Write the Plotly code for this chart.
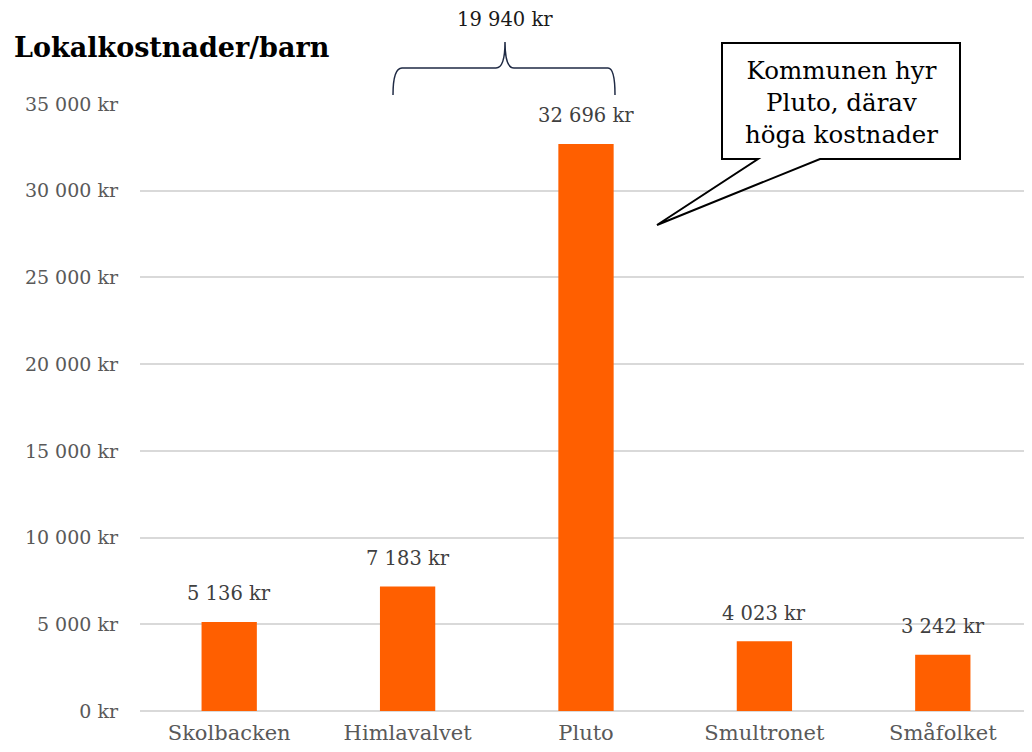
import plotly.graph_objects as go

categories = ["Skolbacken", "Himlavalvet", "Pluto", "Smultronet", "Småfolket"]
values = [5136, 7183, 32696, 4023, 3242]
y_ticks = [0, 5000, 10000, 15000, 20000, 25000, 30000, 35000]
title_text = "Lokalkostnader/barn"
brace_label = "19 940 kr"
callout_text = "Kommunen hyr<br>Pluto, därav<br>höga kostnader"


def kr(v):
    return f"{v:,}".replace(",", " ") + " kr"


# page body has an 8px margin; figure is sized so that it fills the 1032x752 window
OFF = 8
W, H = 1032 - OFF, 752 - OFF
ML, MR, MT, MB = 132, 0, 96, 41
PW, PH = W - ML - MR, H - MT - MB


def px(x):  # screen x -> paper x
    return (x - OFF - ML) / PW


def py(y):  # screen y -> paper y
    return (H + OFF - MB - y) / PH


FONT = "DejaVu Serif"
ORANGE = "#FF5F00"

fig = go.Figure()
fig.add_trace(go.Bar(
    x=categories, y=values, marker=dict(color=ORANGE, line=dict(width=0)),
    width=0.31, hoverinfo="skip",
))

annotations = []
for c, v in zip(categories, values):
    annotations.append(dict(
        x=c, y=v, xref="x", yref="y", text=kr(v),
        showarrow=False, yanchor="middle", yshift=28,
        font=dict(family=FONT, size=19.5, color="#404040"),
    ))

annotations.append(dict(
    x=px(12), y=py(47), xref="paper", yref="paper", xanchor="left", yanchor="middle",
    text="<b>" + title_text + "</b>", showarrow=False,
    font=dict(family=FONT, size=27, color="#000000"),
))
annotations.append(dict(
    x=px(505), y=py(20), xref="paper", yref="paper", xanchor="center", yanchor="middle",
    text=brace_label, showarrow=False, font=dict(family=FONT, size=19.5, color="#1a1a1a"),
))
annotations.append(dict(
    x=px(841), y=py(102), xref="paper", yref="paper", xanchor="center", yanchor="middle",
    text=callout_text, showarrow=False, font=dict(family=FONT, size=24.5, color="#000000"),
))


def P(x, y):
    return f"{px(x):.5f},{py(y):.5f}"


brace_path = (
    f"M {P(393,95)} C {P(393,80)} {P(395,68)} {P(402,68)} "
    f"L {P(496,68)} C {P(503,68)} {P(505,55)} {P(505,42)} "
    f"C {P(505,55)} {P(507,68)} {P(514,68)} "
    f"L {P(608,68)} C {P(613,68)} {P(615,80)} {P(615,95)}"
)
callout_path = (
    f"M {P(722,43)} L {P(960,43)} L {P(960,159)} L {P(820,159)} "
    f"L {P(657,225)} L {P(758,159)} L {P(722,159)} Z"
)

shapes = [
    dict(type="path", xref="paper", yref="paper", path=brace_path,
         line=dict(color="#1F2A44", width=1.5)),
    dict(type="path", xref="paper", yref="paper", path=callout_path,
         fillcolor="white", line=dict(color="#000000", width=2)),
]

fig.update_layout(
    width=W, height=H,
    margin=dict(l=ML, r=MR, t=MT, b=MB, pad=0),
    paper_bgcolor="white", plot_bgcolor="white",
    showlegend=False,
    xaxis=dict(showgrid=False, showline=False, zeroline=False, ticks="",
               ticklabelstandoff=7,
               tickfont=dict(family=FONT, size=21, color="#595959"), fixedrange=True),
    yaxis=dict(range=[0, 35000], tickvals=y_ticks, ticktext=[kr(t) for t in y_ticks],
               showgrid=True, gridcolor="#D9D9D9", gridwidth=1.5, zeroline=True,
               zerolinecolor="#D9D9D9", zerolinewidth=1.5, showline=False, ticks="",
               ticklabelstandoff=21,
               tickfont=dict(family=FONT, size=19, color="#595959"), fixedrange=True),
    annotations=annotations, shapes=shapes,
)

fig.write_html("out.html")
